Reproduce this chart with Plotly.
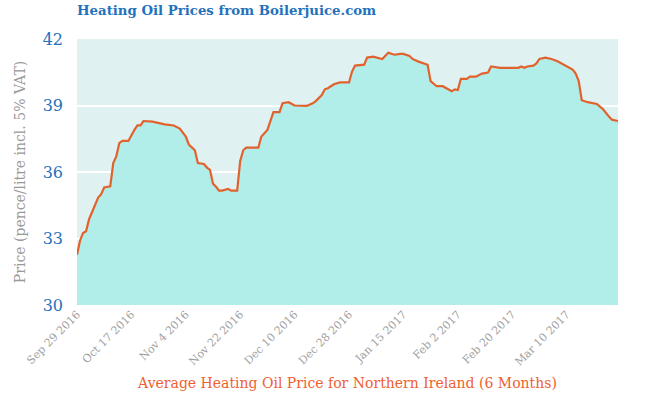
import plotly.graph_objects as go

dates = [
    "2016-09-29", "2016-09-30", "2016-10-01", "2016-10-02", "2016-10-03", "2016-10-04",
    "2016-10-05", "2016-10-06", "2016-10-07", "2016-10-08", "2016-10-10", "2016-10-11",
    "2016-10-12", "2016-10-13", "2016-10-14", "2016-10-16", "2016-10-18", "2016-10-19",
    "2016-10-20", "2016-10-21", "2016-10-24", "2016-10-26", "2016-10-28", "2016-10-31",
    "2016-11-02", "2016-11-04", "2016-11-05", "2016-11-07", "2016-11-08", "2016-11-10",
    "2016-11-11", "2016-11-12", "2016-11-13", "2016-11-14", "2016-11-15", "2016-11-16",
    "2016-11-18", "2016-11-19", "2016-11-21", "2016-11-22", "2016-11-23", "2016-11-24",
    "2016-11-28", "2016-11-29", "2016-12-01", "2016-12-03", "2016-12-05", "2016-12-06",
    "2016-12-08", "2016-12-10", "2016-12-14", "2016-12-16", "2016-12-17", "2016-12-19",
    "2016-12-20", "2016-12-21", "2016-12-23", "2016-12-25", "2016-12-28", "2016-12-29",
    "2016-12-30", "2017-01-02", "2017-01-03", "2017-01-05", "2017-01-08", "2017-01-10",
    "2017-01-12", "2017-01-14", "2017-01-15", "2017-01-17", "2017-01-18", "2017-01-20",
    "2017-01-22", "2017-01-23", "2017-01-24", "2017-01-25", "2017-01-26", "2017-01-28",
    "2017-01-30", "2017-01-31", "2017-02-01", "2017-02-02", "2017-02-03", "2017-02-05",
    "2017-02-06", "2017-02-08", "2017-02-10", "2017-02-12", "2017-02-13", "2017-02-16",
    "2017-02-19", "2017-02-22", "2017-02-23", "2017-02-24", "2017-02-25", "2017-02-27",
    "2017-02-28", "2017-03-01", "2017-03-03", "2017-03-05", "2017-03-07", "2017-03-09",
    "2017-03-11", "2017-03-12", "2017-03-13", "2017-03-14", "2017-03-15", "2017-03-17",
    "2017-03-20", "2017-03-22", "2017-03-24", "2017-03-25", "2017-03-27",
]

prices = [
    32.27, 32.90, 33.25, 33.33, 33.87, 34.20,
    34.50, 34.85, 35.00, 35.30, 35.35, 36.40,
    36.70, 37.30, 37.40, 37.40, 37.90, 38.10,
    38.10, 38.30, 38.27, 38.20, 38.15, 38.10,
    37.96, 37.60, 37.24, 36.98, 36.40, 36.36,
    36.20, 36.10, 35.47, 35.33, 35.16, 35.16,
    35.24, 35.16, 35.16, 36.50, 36.98, 37.10,
    37.10, 37.60, 37.90, 38.70, 38.70, 39.10,
    39.15, 39.00, 38.98, 39.10, 39.20, 39.47,
    39.73, 39.78, 39.96, 40.04, 40.04, 40.53,
    40.80, 40.84, 41.16, 41.20, 41.10, 41.38,
    41.29, 41.33, 41.33, 41.24, 41.10, 40.98,
    40.90, 40.84, 40.10, 40.00, 39.87, 39.87,
    39.70, 39.64, 39.73, 39.70, 40.20, 40.20,
    40.30, 40.30, 40.44, 40.49, 40.76, 40.70,
    40.70, 40.70, 40.76, 40.70, 40.76, 40.80,
    40.90, 41.10, 41.16, 41.10, 41.00, 40.84,
    40.70, 40.62, 40.44, 40.10, 39.24, 39.15,
    39.07, 38.84, 38.50, 38.36, 38.30,
]

y_ticks = [30, 33, 36, 39, 42]
x_tick_start = "2016-09-29"
x_range = ["2016-09-29", "2017-03-27"]

title_text = "Heating Oil Prices from Boilerjuice.com"
x_title = "Average Heating Oil Price for Northern Ireland (6 Months)"
y_title = "Price (pence/litre incl. 5% VAT)"

serif = "DejaVu Serif"

fig = go.Figure()
fig.add_trace(go.Scatter(
    x=dates, y=prices, mode="lines", fill="tozeroy",
    fillcolor="#b2eee9",
    line=dict(color="#e2622e", width=2.2),
    hoverinfo="x+y",
))

fig.update_layout(
    width=660, height=400,
    margin=dict(l=77, r=42, t=39, b=91),
    paper_bgcolor="white",
    plot_bgcolor="#dff1f0",
    showlegend=False,
    title=dict(
        text="<b>" + title_text + "</b>",
        x=0, xref="paper", xanchor="left",
        y=0.975, yref="container", yanchor="middle",
        font=dict(family=serif, size=13.3, color="#1f72bb"),
    ),
    xaxis=dict(
        type="date",
        range=x_range,
        tick0=x_tick_start,
        dtick=18 * 24 * 3600 * 1000,
        tickformat="%b %-d %Y",
        tickangle=-45,
        showgrid=False,
        zeroline=False,
        showline=False,
        ticks="",
        tickfont=dict(family=serif, size=11, color="#a0a0a0"),
        title=dict(text=x_title, font=dict(family=serif, size=14, color="#ee6030"), standoff=10),
    ),
    yaxis=dict(
        range=[30, 42],
        tickvals=y_ticks,
        showgrid=True,
        gridcolor="white",
        gridwidth=1.5,
        zeroline=False,
        showline=False,
        ticks="",
        ticklabelstandoff=13,
        tickfont=dict(family=serif, size=16, color="#1f72bb"),
        title=dict(text=y_title, font=dict(family=serif, size=14, color="#999999"), standoff=13),
    ),
)

fig.write_html("out.html")
